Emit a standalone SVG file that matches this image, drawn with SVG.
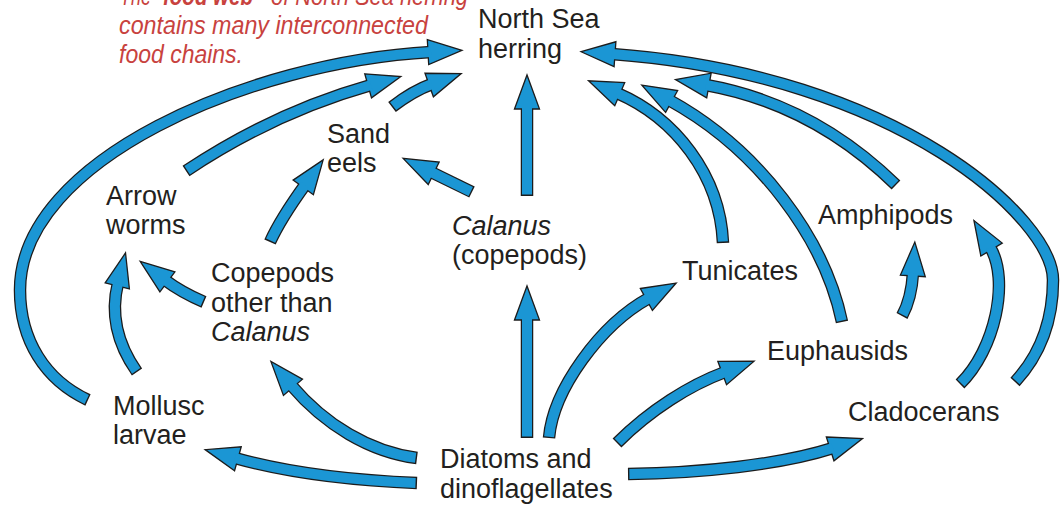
<svg xmlns="http://www.w3.org/2000/svg" width="1060" height="508" viewBox="0 0 1060 508">
<style>
.o{fill:none;stroke:#1c1c1c;stroke-width:12.5;stroke-linecap:butt;marker-end:url(#h)}
.f{fill:none;stroke:#1b96d4;stroke-width:10;stroke-linecap:butt;stroke-dasharray:0,1.4,3000}
.l{font-family:"Liberation Sans",Arial,sans-serif;font-size:27px;fill:#231f20}
.i{font-style:italic}
.t{font-family:"Liberation Sans",Arial,sans-serif;font-size:26px;font-style:italic;fill:#c8423e}
.b{font-weight:bold}
</style>
<defs>
<marker id="h" markerUnits="userSpaceOnUse" orient="auto" refX="3" refY="0" markerWidth="40" markerHeight="30" viewBox="-2 -15 40 30" overflow="visible">
<polygon points="0,-12.5 34,0 0,12.5" fill="#1b96d4" stroke="#1c1c1c" stroke-width="1.3" stroke-linejoin="miter"/>
</marker>
</defs>
<rect width="1060" height="508" fill="#ffffff"/>
<g id="caption">
<text class="t" x="120" y="5" textLength="31" lengthAdjust="spacingAndGlyphs">The</text>
<text class="t b" x="163" y="5" textLength="90" lengthAdjust="spacingAndGlyphs">food web</text>
<text class="t" x="271" y="5" textLength="197" lengthAdjust="spacingAndGlyphs">of North Sea herring</text>
<text class="t" x="119" y="34" textLength="309" lengthAdjust="spacingAndGlyphs">contains many interconnected</text>
<text class="t" x="119" y="63" textLength="124" lengthAdjust="spacingAndGlyphs">food chains.</text>
</g>
<g id="connectors">
<g><path class="o" d="M88,400 C45,380 20,340 20,290 C20,160 250,62 431,52"/><path class="f" d="M88,400 C45,380 20,340 20,290 C20,160 250,62 431,52"/></g>
<g><path class="o" d="M186,171 C240,135 300,105 371,85"/><path class="f" d="M186,171 C240,135 300,105 371,85"/></g>
<g><path class="o" d="M392,107 C405,97 418,89 432,84"/><path class="f" d="M392,107 C405,97 418,89 432,84"/></g>
<g><path class="o" d="M472,192 L431,172"/><path class="f" d="M472,192 L431,172"/></g>
<g><path class="o" d="M270,242 C280,220 292,203 305,185"/><path class="f" d="M270,242 C280,220 292,203 305,185"/></g>
<g><path class="o" d="M527,196 L527,106"/><path class="f" d="M527,196 L527,106"/></g>
<g><path class="o" d="M204,302 C190,296 177,289 165,280"/><path class="f" d="M204,302 C190,296 177,289 165,280"/></g>
<g><path class="o" d="M137,372 C118,345 110,315 118,283"/><path class="f" d="M137,372 C118,345 110,315 118,283"/></g>
<g><path class="o" d="M417,458 C370,452 325,425 291,385"/><path class="f" d="M417,458 C370,452 325,425 291,385"/></g>
<g><path class="o" d="M417,483 C340,480 285,472 235,458"/><path class="f" d="M417,483 C340,480 285,472 235,458"/></g>
<g><path class="o" d="M527,438 L527,317"/><path class="f" d="M527,438 L527,317"/></g>
<g><path class="o" d="M549,438 C553,390 600,325 649,298"/><path class="f" d="M549,438 C553,390 600,325 649,298"/></g>
<g><path class="o" d="M617,443 C650,410 690,385 725,372"/><path class="f" d="M617,443 C650,410 690,385 725,372"/></g>
<g><path class="o" d="M628,474 C700,473 780,465 833,448"/><path class="f" d="M628,474 C700,473 780,465 833,448"/></g>
<g><path class="o" d="M723,243 C720,175 675,118 617,93"/><path class="f" d="M723,243 C720,175 675,118 617,93"/></g>
<g><path class="o" d="M842,322 C825,240 760,150 669,100"/><path class="f" d="M842,322 C825,240 760,150 669,100"/></g>
<g><path class="o" d="M896,185 C850,140 790,100 706,85"/><path class="f" d="M896,185 C850,140 790,100 706,85"/></g>
<g><path class="o" d="M1015,382 C1040,355 1053,320 1053,280 C1053,220 900,75 612,54"/><path class="f" d="M1015,382 C1040,355 1053,320 1053,280 C1053,220 900,75 612,54"/></g>
<g><path class="o" d="M960,384 C995,350 1010,280 990,247"/><path class="f" d="M960,384 C995,350 1010,280 990,247"/></g>
<g><path class="o" d="M902,316 C908,305 912,290 913,273"/><path class="f" d="M902,316 C908,305 912,290 913,273"/></g>
</g>
<g id="herring"><text class="l" x="478" y="28">North Sea</text><text class="l" x="478" y="58">herring</text></g>
<g id="sandeels"><text class="l" x="327" y="143">Sand</text><text class="l" x="327" y="172">eels</text></g>
<g id="arrowworms"><text class="l" x="106" y="205">Arrow</text><text class="l" x="106" y="234">worms</text></g>
<g id="calanus"><text class="l i" x="452" y="235">Calanus</text><text class="l" x="452" y="264">(copepods)</text></g>
<g id="copepods"><text class="l" x="211" y="282">Copepods</text><text class="l" x="211" y="312">other than</text><text class="l i" x="211" y="341">Calanus</text></g>
<g id="tunicates"><text class="l" x="682" y="280">Tunicates</text></g>
<g id="amphipods"><text class="l" x="818" y="224">Amphipods</text></g>
<g id="euphausids"><text class="l" x="767" y="360">Euphausids</text></g>
<g id="mollusc"><text class="l" x="113" y="415">Mollusc</text><text class="l" x="113" y="444">larvae</text></g>
<g id="cladocerans"><text class="l" x="848" y="421">Cladocerans</text></g>
<g id="diatoms"><text class="l" x="440" y="468">Diatoms and</text><text class="l" x="440" y="498">dinoflagellates</text></g>
</svg>
